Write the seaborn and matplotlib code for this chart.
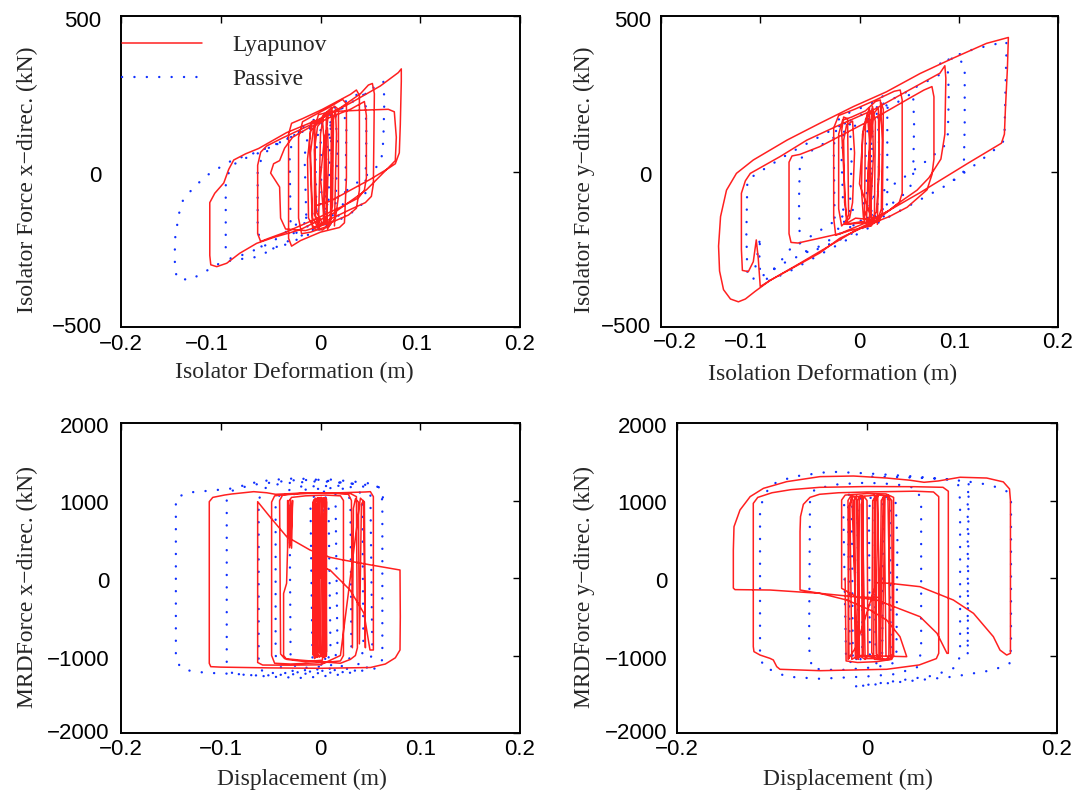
import matplotlib

matplotlib.use("Agg")
import matplotlib.pyplot as plt
from matplotlib.transforms import ScaledTranslation
import numpy as np
import pandas as pd
import seaborn as sns


# ---- isolator force, x direction (displacement m, force kN) ----
tl_lyapunov = [
    (0.014, -175), (0.016, 120), (0.015, 200), (0.012, 150), (0.010, -170), (0.007, -185),
    (0.005, 100), (0.008, 190), (0.011, 180), (0.010, -160), (-0.008, -180), (-0.011, 100),
    (-0.009, 160), (-0.006, 165), (-0.005, -150), (-0.002, -175), (0.000, 120), (0.003, 180),
    (0.006, 190), (0.004, -170),
    (0.000, -20), (0.004, 110), (0.007, 140), (0.008, 40), (0.006, -150), (0.002, -168),
    (-0.004, -130), (-0.006, 70), (-0.003, 145), (0.002, 165), (0.004, 80), (0.003, -165),
    (-0.002, -182), (-0.008, -150), (-0.010, 60), (-0.007, 140), (0.004, 185), (0.011, 205),
    (0.013, 160), (0.012, -110), (0.009, -172), (0.002, -188), (-0.006, -185), (-0.012, -150),
    (-0.013, 40), (-0.010, 130), (-0.002, 160), (0.014, 210), (0.018, 200), (0.018, -80),
    (0.015, -150), (0.008, -175), (-0.010, -195), (-0.019, -200), (-0.022, -150), (-0.022, 110),
    (-0.018, 160), (-0.008, 178), (0.008, 205), (0.022, 232), (0.026, 218), (0.026, -20),
    (0.024, -165), (0.019, -180), (0.000, -195), (-0.020, -222), (-0.029, -240), (-0.032, -215),
    (-0.032, 120), (-0.029, 155), (-0.018, 170), (0.002, 200), (0.030, 248), (0.036, 262),
    (0.039, 245), (0.039, -60), (0.036, -118), (0.028, -140), (0.010, -165), (-0.015, -190),
    (-0.035, -185), (-0.040, -150), (-0.041, -50), (-0.045, -30), (-0.050, -5), (-0.047, 25),
    (-0.041, 35), (-0.036, 75), (-0.028, 110), (-0.012, 140), (0.010, 175), (0.030, 200),
    (0.044, 225), (0.046, 180), (0.046, -20), (0.044, -60), (0.038, -85), (0.020, -115),
    (-0.010, -160), (-0.035, -195), (-0.052, -215), (-0.060, -225), (-0.063, -200), (-0.063, 20),
    (-0.060, 62), (-0.054, 82), (-0.038, 108), (-0.010, 150), (0.020, 205), (0.040, 250),
    (0.048, 278), (0.052, 283), (0.054, 250), (0.053, -40), (0.051, -80), (0.045, -100),
    (0.030, -122), (0.000, -168), (-0.006, -140), (-0.006, 140), (-0.002, 183), (0.012, 193),
    (0.040, 197), (0.068, 200), (0.074, 192), (0.076, 110), (0.075, 35), (0.068, 12),
    (0.046, -59), (0.013, -134), (-0.021, -188), (-0.047, -212), (-0.064, -231), (-0.081, -263),
    (-0.094, -295), (-0.104, -306), (-0.110, -300), (-0.111, -270), (-0.111, -100), (-0.106, -70),
    (-0.097, -37), (-0.092, 7), (-0.087, 37), (-0.075, 57), (-0.062, 74), (-0.034, 125),
    (0.000, 170), (0.030, 220), (0.060, 275), (0.078, 318), (0.081, 330), (0.081, 290),
    (0.080, 150), (0.079, 60), (0.075, 25), (0.068, 10), (0.050, -25), (0.030, -60),
    (0.010, -95), (-0.005, -110),
]
tl_passive = [
    (0.004, -160), (0.006, 60), (0.010, 160), (0.015, 185), (0.017, 80), (0.015, -110),
    (0.010, -165), (0.002, -180), (-0.004, -150), (-0.005, 40), (-0.002, 140), (0.006, 175),
    (0.022, 205), (0.026, 150), (0.025, -60), (0.021, -130), (0.012, -165), (-0.006, -190),
    (-0.014, -175), (-0.016, 50), (-0.012, 130), (0.000, 165), (0.010, 150), (0.008, -100),
    (0.003, -170), (-0.015, -200), (-0.025, -215), (-0.030, -170), (-0.031, 60), (-0.026, 120),
    (-0.010, 160), (0.020, 215), (0.038, 250), (0.045, 258), (0.046, 120), (0.045, -70),
    (0.040, -115), (0.022, -150), (-0.010, -200), (-0.035, -235), (-0.050, -250), (-0.060, -240),
    (-0.063, -180), (-0.063, 0), (-0.058, 55), (-0.045, 85), (-0.020, 130), (0.010, 180),
    (0.040, 240), (0.058, 280), (0.063, 290), (0.064, 230), (0.063, 100), (0.061, 37),
    (0.055, 10), (0.035, -40), (0.010, -100), (-0.020, -160), (-0.050, -230), (-0.075, -265),
    (-0.090, -280), (-0.095, -250), (-0.095, -45), (-0.091, 10), (-0.082, 35), (-0.065, 55),
    (-0.040, 95), (-0.010, 140), (0.000, 150), (0.001, -100), (-0.030, -220), (-0.050, -252),
    (-0.062, -274), (-0.088, -285), (-0.101, -295), (-0.119, -328), (-0.131, -349), (-0.144, -343),
    (-0.146, -306), (-0.146, -220), (-0.142, -137), (-0.138, -94), (-0.130, -62), (-0.121, -33),
    (-0.111, -6), (-0.100, 15), (-0.088, 37), (-0.070, 55), (-0.050, 80), (-0.030, 110),
    (-0.010, 140), (0.010, 150), (0.012, 0), (0.010, -150),
]

# ---- isolator force, y direction ----
tr_lyapunov = [
    (0.018, -170), (0.020, 150), (0.022, 220), (0.024, 200), (0.023, -130), (0.020, -160),
    (-0.013, -170), (-0.018, 130), (-0.016, 175), (-0.012, 170), (-0.011, -140), (-0.015, -170),
    (0.005, -160), (0.006, 160), (0.010, 205), (0.012, -150),
    (0.000, -40), (0.004, 140), (0.008, 185), (0.010, 100), (0.008, -120), (0.004, -150),
    (0.002, -60), (0.003, 120), (0.008, 175), (0.013, 195), (0.014, 50), (0.011, -140),
    (0.007, -165), (0.009, 30), (0.014, 185), (0.019, 205), (0.020, 0), (0.017, -130),
    (0.012, -155), (-0.004, -150), (-0.012, -165), (-0.015, -100), (-0.016, 100), (-0.013, 150),
    (-0.007, 162), (-0.005, 60), (-0.007, -100), (-0.010, -150), (-0.018, -175), (-0.021, -120),
    (-0.021, 120), (-0.017, 165), (-0.008, 175), (0.006, 195), (0.016, 225), (0.021, 230),
    (0.023, 100), (0.022, -120), (0.018, -160), (0.010, -175), (0.011, 120), (0.013, 210),
    (0.016, 160), (0.015, -150), (0.012, -175), (-0.010, -190), (-0.024, -205), (-0.026, -150),
    (-0.026, 140), (-0.021, 180), (-0.005, 200), (0.015, 228), (0.035, 258), (0.041, 262),
    (0.043, 230), (0.043, -70), (0.040, -100), (0.030, -125), (0.010, -160), (-0.020, -200),
    (-0.045, -218), (-0.062, -230), (-0.069, -228), (-0.071, -200), (-0.071, 30), (-0.068, 50),
    (-0.060, 55), (-0.040, 80), (-0.010, 130), (0.020, 180), (0.050, 235), (0.065, 262),
    (0.073, 273), (0.075, 240), (0.075, 40), (0.073, -10), (0.068, -59), (0.048, -115),
    (0.030, -145), (0.010, -170), (-0.020, -215), (-0.040, -262), (-0.073, -320), (-0.090, -350),
    (-0.100, -370), (-0.102, -280), (-0.104, -220), (-0.107, -290), (-0.112, -322), (-0.118, -318),
    (-0.119, -250), (-0.119, -70), (-0.115, -30), (-0.110, -6), (-0.080, 48), (-0.053, 101),
    (-0.020, 150), (0.014, 198), (0.050, 262), (0.081, 316), (0.086, 340), (0.087, 300),
    (0.086, 120), (0.082, 40), (0.070, -20), (0.058, -60), (0.040, -100), (0.020, -150),
    (0.000, -182), (-0.026, -231), (-0.060, -295), (-0.090, -350), (-0.105, -385), (-0.115, -410),
    (-0.122, -419), (-0.130, -410), (-0.137, -380), (-0.141, -320), (-0.142, -240), (-0.140, -145),
    (-0.134, -60), (-0.124, -6), (-0.107, 37), (-0.073, 101), (-0.040, 155), (-0.006, 209),
    (0.027, 256), (0.061, 315), (0.094, 364), (0.128, 412), (0.150, 431), (0.149, 330),
    (0.147, 200), (0.146, 120), (0.143, 91), (0.110, 28), (0.061, -68), (0.030, -125),
    (0.010, -160),
]
tr_passive = [
    (0.010, -150), (0.012, 100), (0.015, 190), (0.018, 210), (0.020, 60), (0.018, -120),
    (0.014, -160), (0.008, -150), (0.006, 80), (0.010, 180), (0.013, 140), (0.012, -140),
    (-0.010, -180), (-0.016, -160), (-0.018, 40), (-0.016, 150), (-0.010, 170), (-0.008, 30),
    (-0.010, -140), (-0.020, -190), (-0.025, -170), (-0.026, 80), (-0.022, 165), (-0.010, 190),
    (0.010, 215), (0.025, 245), (0.028, 200), (0.028, -100), (0.024, -150), (0.010, -170),
    (-0.020, -220), (-0.050, -260), (-0.060, -250), (-0.061, -100), (-0.060, 40), (-0.052, 60),
    (-0.020, 120), (0.020, 190), (0.045, 235), (0.054, 255), (0.055, 150), (0.054, -20),
    (0.050, -60), (0.030, -110), (0.000, -160), (-0.040, -240), (-0.080, -300), (-0.100, -340),
    (-0.101, -260), (-0.100, -210), (-0.107, -349), (-0.113, -330), (-0.114, -200), (-0.113, -27),
    (-0.100, 0), (-0.070, 60), (-0.030, 130), (0.010, 195), (0.050, 260), (0.080, 310),
    (0.089, 325), (0.090, 250), (0.089, 120), (0.085, 80), (0.070, 40), (0.040, -30),
    (0.000, -110), (-0.040, -190), (-0.070, -250), (-0.097, -360), (-0.070, -320), (-0.030, -250),
    (0.010, -180), (0.050, -110), (0.090, -40), (0.105, 0), (0.106, 150), (0.106, 340),
    (0.098, 370), (0.080, 345), (0.106, 385), (0.130, 405), (0.148, 417), (0.148, 380),
    (0.147, 250), (0.146, 101), (0.140, 80), (0.120, 30), (0.090, -40),
]

# ---- MR damper force, x direction ----
bl_lyapunov = [
    (-0.007, -1000), (-0.007, 1000), (-0.005, 1030), (-0.005, -1010), (-0.003, -1020), (-0.003, 1030),
    (0.006, 1020), (0.006, -1000), (0.004, -1020), (0.004, 1030), (-0.0075, 980), (-0.0075, -990),
    (0.0055, -1010), (0.0055, 1030), (-0.006, 1010), (-0.006, -1020), (0.005, -1000), (0.005, 1020),
    (0.000, 0), (0.001, 980), (0.003, 1020), (0.004, 900), (0.004, -960), (0.002, -1010),
    (-0.001, -960), (-0.002, 990), (0.000, 1030), (0.002, 950), (0.002, -990), (-0.001, -1020),
    (-0.004, -980), (-0.005, 980), (-0.002, 1030), (0.005, 1000), (0.006, -950), (0.003, -1015),
    (-0.003, -1000), (-0.006, 960), (-0.004, 1025), (0.001, 1040), (0.003, 0), (0.002, -1000),
    (-0.006, -1010), (-0.0075, 900), (-0.005, 1010), (-0.001, 1000), (0.000, -990), (0.004, -1030),
    (0.006, 980), (0.005, 1030), (-0.002, 1020), (-0.003, -1000), (-0.006, -1040), (-0.004, 950),
    (0.001, 1010), (0.002, -1060), (-0.015, -1080), (-0.034, -1050), (-0.037, -1000), (-0.037, -200),
    (-0.034, -69), (-0.033, 380), (-0.033, 1000), (-0.031, 390), (-0.030, 1010), (-0.029, 385),
    (-0.028, 1000), (-0.030, 420), (-0.032, 990), (-0.029, 1040), (-0.015, 1060), (0.005, 1070),
    (0.020, 1060), (0.023, 1000), (0.023, -1000), (0.020, -1070), (0.005, -1090), (-0.030, -1110),
    (-0.046, -1100), (-0.049, -1000), (-0.049, 980), (-0.046, 1060), (-0.030, 1085), (0.000, 1100),
    (0.030, 1090), (0.036, 1050), (0.037, -900), (0.035, -1000), (0.030, -1050), (0.020, -1100),
    (-0.020, -1060), (-0.036, -1040), (-0.040, -980), (-0.041, 1000), (-0.038, 1070), (-0.020, 1090),
    (0.010, 1095), (0.028, 1080), (0.031, 1000), (0.032, -900), (0.033, 900), (0.035, 1020),
    (0.038, 980), (0.039, -850), (0.041, 950), (0.043, 1000), (0.045, -900), (0.044, 980),
    (0.040, 1030), (0.020, -1000), (0.000, -1120), (-0.030, -1125), (-0.058, -1123), (-0.063, -1090),
    (-0.063, 985), (-0.0508, 791), (-0.0339, 533), (-0.0105, 361), (0.0095, 267), (0.0229, 232),
    (0.0506, 168), (0.0797, 103), (0.0800, -500), (0.0797, -929), (0.075, -1030), (0.065, -1110),
    (0.050, -1155), (0.000, -1165), (-0.050, -1160), (-0.100, -1150), (-0.110, -1144), (-0.1115, -1101),
    (-0.1115, 985), (-0.108, 1040), (-0.096, 1071), (-0.089, 1084), (-0.067, 1114), (-0.054, 1100),
    (-0.045, 1080), (-0.020, 1095), (0.020, 1100), (0.045, 1110), (0.050, 1114), (0.053, 1050),
    (0.053, -929), (0.0496, -929), (0.0436, -456), (0.0296, -155), (0.0095, 103), (0.000, 150),
]
bl_passive = [
    (0.004, -1000), (0.004, 1000), (0.005, 1050), (0.005, -1050), (0.003, -1000), (0.003, 1000),
    (-0.005, -1000), (-0.004, 900), (0.000, 1050), (0.004, 980), (0.005, -950), (0.002, -1100),
    (-0.002, -1050), (-0.003, 950), (0.002, 1080), (0.008, 1000), (0.010, -900), (0.007, -1100),
    (0.000, -1120), (-0.008, -1050), (-0.010, 900), (-0.006, 1080), (0.005, 1120), (0.015, 1090),
    (0.017, -900), (0.013, -1120), (-0.010, -1160), (-0.025, -1150), (-0.030, -1000), (-0.031, 900),
    (-0.027, 1080), (-0.015, 1140), (0.010, 1160), (0.025, 1150), (0.030, 1000), (0.031, -950),
    (0.027, -1120), (0.010, -1170), (-0.030, -1200), (-0.040, -1150), (-0.045, -1000), (-0.045, 950),
    (-0.040, 1100), (-0.020, 1180), (0.020, 1190), (0.038, 1160), (0.042, 1000), (0.043, -900),
    (0.040, -1100), (0.025, -1180), (-0.040, -1230), (-0.058, -1220), (-0.062, -1050), (-0.062, 1000),
    (-0.058, 1150), (-0.040, 1220), (0.000, 1250), (0.040, 1210), (0.050, 1100), (0.052, -950),
    (0.048, -1150), (0.030, -1210), (-0.060, -1260), (-0.088, -1240), (-0.094, -1100), (-0.094, 1000),
    (-0.090, 1120), (-0.070, 1200), (-0.030, 1260), (0.010, 1270), (0.045, 1230), (0.058, 1190),
    (0.062, 1000), (0.062, -1050), (0.058, -1160), (0.040, -1200), (0.016, -1252), (-0.017, -1290),
    (-0.050, -1273), (-0.084, -1239), (-0.116, -1222), (-0.134, -1190), (-0.141, -1144), (-0.145, -1015),
    (-0.145, 1028), (-0.134, 1101), (-0.111, 1127), (-0.087, 1157), (-0.070, 1222), (-0.050, 1265),
    (-0.024, 1286), (0.000, 1265), (0.027, 1222), (0.047, 1200), (0.057, 1178), (0.062, 1100),
    (0.063, 985),
]

# ---- MR damper force, y direction ----
br_lyapunov = [
    (-0.019, -1040), (-0.020, 1000), (-0.017, 1060), (-0.013, 1050), (-0.012, -1030), (-0.009, -1050),
    (-0.008, 1040), (-0.005, 1060), (-0.002, -1040), (0.007, -1040), (0.008, 1050), (0.011, 1070),
    (0.013, -1050), (0.016, -1040), (0.019, 1060), (0.022, 1070), (0.025, -1040), (0.019, -1050),
    (-0.005, -1000), (-0.006, 950), (-0.003, 1050), (0.000, 1000), (0.001, -1000), (-0.002, -1050),
    (-0.008, -1000), (-0.010, 1000), (-0.007, 1060), (-0.004, 980), (-0.004, -1000), (-0.012, -1040),
    (-0.014, 1000), (-0.011, 1060), (-0.009, -1000), (-0.016, -1050), (-0.018, 950), (-0.015, 1050),
    (0.002, 1060), (0.008, 1070), (0.010, -980), (0.013, -1040), (0.015, 1000), (0.018, 1060),
    (0.020, -1000), (0.023, -1040), (0.024, 1000), (0.021, 1060), (0.012, 1070), (0.009, 990),
    (0.010, -1000), (0.014, -1050), (0.017, 1040), (0.022, 1065), (0.026, 1000), (0.027, -980),
    (0.024, -1050), (0.008, -1050), (0.005, -960), (0.006, 1000), (0.011, 1070), (0.013, -250),
    (0.000, -250), (-0.0142, -241), (-0.0495, -198), (-0.1021, -155), (-0.1390, -150), (-0.1407, -130),
    (-0.1407, 361), (-0.1400, 662), (-0.1337, 877), (-0.123, 1050), (-0.109, 1157), (-0.0846, 1243),
    (-0.0495, 1308), (-0.0142, 1316), (0.0207, 1290), (0.045, 1262), (0.060, 1235), (0.075, 1252),
    (0.098, 1300), (0.126, 1290), (0.1435, 1240), (0.150, 1150), (0.151, 1000), (0.151, -972),
    (0.147, -994), (0.140, -930), (0.133, -757), (0.1121, -456), (0.0909, -284), (0.0558, -112),
    (0.0242, -69), (0.010, -60), (-0.012, -900), (-0.020, -1050), (-0.019, 900), (-0.016, 1060),
    (-0.010, -1000), (0.0418, -1015), (0.0347, -757), (0.0207, -542), (0.0032, -413), (-0.0214, -284),
    (-0.0495, -198), (-0.0705, -155), (-0.0705, 600), (-0.0700, 791), (-0.067, 950), (-0.060, 1040),
    (-0.050, 1080), (-0.030, 1100), (0.000, 1110), (0.050, 1120), (0.070, 1110), (0.0755, 1050),
    (0.0755, -972), (0.073, -1040), (0.055, -1122), (0.0207, -1178), (-0.0495, -1196), (-0.0916, -1178),
    (-0.095, -1144), (-0.0986, -1058), (-0.1021, -1037), (-0.1126, -994), (-0.1190, -950), (-0.1197, -885),
    (-0.1197, 963), (-0.115, 1040), (-0.100, 1100), (-0.080, 1140), (-0.050, 1170), (0.000, 1180),
    (0.050, 1178), (0.080, 1170), (0.0856, 1120), (0.0856, 0), (0.0856, -972), (0.0842, -972),
    (0.0737, -714), (0.0558, -499), (0.0102, -284), (-0.010, -250), (-0.0267, -133), (-0.0267, 1006),
    (-0.023, 1070), (0.000, 1090), (0.020, 1085), (0.028, 1040), (0.028, -1000), (0.026, -1050),
    (0.010, -1080), (-0.010, -1090), (-0.022, -1070), (-0.023, 0),
]
br_passive = [
    (-0.015, -1000), (-0.016, 900), (-0.013, 1050), (-0.010, 950), (-0.009, -950), (-0.012, -1080),
    (-0.018, -1050), (-0.020, 900), (-0.017, 1060), (-0.008, 1080), (-0.005, 950), (-0.005, -980),
    (-0.008, -1090), (-0.022, -1080), (-0.025, 900), (-0.021, 1070), (-0.012, 1090), (-0.003, 1000),
    (0.005, 1040), (0.008, 950), (0.009, -950), (0.012, -1060), (0.016, -1000), (0.017, 950),
    (0.020, 1060), (0.024, 980), (0.025, -900), (0.022, -1050), (0.010, -1100), (0.003, -1050),
    (0.002, 900), (0.006, 1060), (0.014, 1080), (0.030, 1000), (0.032, 500), (0.031, -950),
    (0.027, -1100), (0.010, -1150), (-0.030, -1190), (-0.058, -1170), (-0.061, -900), (-0.060, 1000),
    (-0.055, 1150), (-0.030, 1210), (0.000, 1230), (0.030, 1210), (0.052, 1160), (0.057, 1000),
    (0.057, -950), (0.053, -1150), (0.030, -1240), (0.000, -1270), (-0.050, -1300), (-0.0846, -1273),
    (-0.1091, -1144), (-0.1126, -1000), (-0.1126, 920), (-0.1021, 1200), (-0.0779, 1308), (-0.0389, 1372),
    (0.000, 1350), (0.050, 1310), (0.085, 1270), (0.096, 1200), (0.098, 1000), (0.098, -1000),
    (0.094, -1150), (0.070, -1260), (0.030, -1330), (-0.0142, -1402), (0.0207, -1359), (0.0558, -1316),
    (0.0909, -1273), (0.1333, -1187), (0.150, -1101), (0.1516, -900), (0.1516, 1000), (0.148, 1114),
    (0.130, 1200), (0.107, 1243), (0.106, 1000), (0.106, -1000), (0.107, 1243), (0.080, 1280),
    (0.040, 1300), (0.000, 1310),
]

panel_xlabels = ["Isolator Deformation (m)", "Isolation Deformation (m)",
                 "Displacement (m)", "Displacement (m)"]
panel_ylabels = ["Isolator Force x\u2212direc. (kN)", "Isolator Force y\u2212direc. (kN)",
                 "MRDForce x\u2212direc. (kN)", "MRDForce y\u2212direc. (kN)"]
isolator_yticks = [-500, 0, 500]
mrd_yticks = [-2000, -1000, 0, 1000, 2000]
fine_xticks = [-0.2, -0.1, 0, 0.1, 0.2]
coarse_xticks = [-0.2, 0, 0.2]

RED = "#ff2020"
BLUE = "#1030ff"
W, H = 1078, 792


def _rect(left, right, top, bottom):
    return [left / W, 1 - bottom / H, (right - left) / W, (bottom - top) / H]


def _frame(points):
    return pd.DataFrame(np.array(points, dtype=float), columns=["disp", "force"])


def _fmt(t):
    return "0" if t == 0 else f"{t:g}".replace("-", "\u2212")


def _nudge(fig, label, dx, dy):
    # pixel offset of a tick label (dy > 0 moves it down)
    label.set_transform(label.get_transform()
                        + ScaledTranslation(dx / 100, -dy / 100, fig.dpi_scale_trans))


def draw_panel(ax, lyap, passive, xticks, yticks, ylim, xlabel, ylabel, layout,
               xshift=None, ydrop=3):
    sns.lineplot(data=_frame(lyap), x="disp", y="force", sort=False, estimator=None,
                 color=RED, linewidth=1.1, ax=ax, label="Lyapunov", zorder=3)
    sns.lineplot(data=_frame(passive), x="disp", y="force", sort=False, estimator=None,
                 color=BLUE, linewidth=1.7, ax=ax, label="Passive", zorder=2)
    dotted = ax.get_lines()[-1]
    dotted.set_linestyle((0, (0.05, 5.2)))
    dotted.set_dash_capstyle("round")

    if ax.get_legend() is not None:
        ax.get_legend().remove()

    ax.set_xlim(-0.2, 0.2)
    ax.set_ylim(*ylim)
    ax.set_xticks(xticks)
    ax.set_yticks(yticks)
    ax.set_xticklabels([_fmt(t) for t in xticks])
    ax.set_yticklabels([_fmt(t) for t in yticks])

    ypad, xpad, xl, yl = layout
    ax.tick_params(direction="in", top=True, right=True, length=5, width=1,
                   labelsize=16, colors="black")
    ax.tick_params(axis="y", pad=ypad)
    ax.tick_params(axis="x", pad=xpad)
    for lab in ax.get_xticklabels() + ax.get_yticklabels():
        lab.set_fontfamily("Liberation Sans")
    for spine in ax.spines.values():
        spine.set_visible(True)
        spine.set_linewidth(1.4)
        spine.set_color("black")

    ax.set_xlabel(xlabel, fontsize=17, family="Liberation Serif")
    ax.set_ylabel(ylabel, fontsize=17, family="Liberation Serif")
    ax.xaxis.set_label_coords(*xl)
    ax.yaxis.set_label_coords(*yl)
    ax.grid(False)

    fig = ax.figure
    ylabels = ax.get_yticklabels()
    for i, lab in enumerate(ylabels):
        # the lowest label sits right above the x tick labels, keep it clear of them
        _nudge(fig, lab, 0, -2 if i == 0 else ydrop)
    if xshift:
        for lab, dx in zip(ax.get_xticklabels(), xshift):
            if dx:
                _nudge(fig, lab, dx, 0)


def main():
    sns.set_style("white")
    plt.rcParams["axes.unicode_minus"] = True

    fig = plt.figure(figsize=(W / 100, H / 100), dpi=100)
    ax_tl = fig.add_axes(_rect(121, 520, 16, 327))
    ax_tr = fig.add_axes(_rect(661, 1058, 16, 327))
    ax_bl = fig.add_axes(_rect(121, 520, 423, 733))
    ax_br = fig.add_axes(_rect(677, 1057, 423, 733))

    draw_panel(ax_tl, tl_lyapunov, tl_passive, fine_xticks, isolator_yticks, (-500, 500),
               panel_xlabels[0], panel_ylabels[0], (14, 5, (0.434, -0.112), (-0.208, 0.473)),
               xshift=[0, -14, 0, -4, 0])
    draw_panel(ax_tr, tr_lyapunov, tr_passive, fine_xticks, isolator_yticks, (-500, 500),
               panel_xlabels[1], panel_ylabels[1], (7, 3.5, (0.431, -0.118), (-0.166, 0.473)),
               xshift=[14, -14, 0, -4, 0])
    draw_panel(ax_bl, bl_lyapunov, bl_passive, fine_xticks, mrd_yticks, (-2000, 2000),
               panel_xlabels[2], panel_ylabels[2], (8.5, 4.5, (0.454, -0.117), (-0.208, 0.471)),
               ydrop=2)
    draw_panel(ax_br, br_lyapunov, br_passive, coarse_xticks, mrd_yticks, (-2000, 2000),
               panel_xlabels[3], panel_ylabels[3], (7, 4.5, (0.45, -0.117), (-0.216, 0.471)),
               ydrop=2)

    handles, labels = ax_tl.get_legend_handles_labels()
    ax_tl.legend(handles, labels, loc="upper left", bbox_to_anchor=(-0.028, 0.977),
                 frameon=False, borderaxespad=0, borderpad=0.5, handlelength=3.4,
                 handletextpad=1.3, labelspacing=0.5,
                 prop={"family": "Liberation Serif", "size": 17})

    fig.savefig("out.png", dpi=100)
    plt.close(fig)


if __name__ == "__main__":
    main()
